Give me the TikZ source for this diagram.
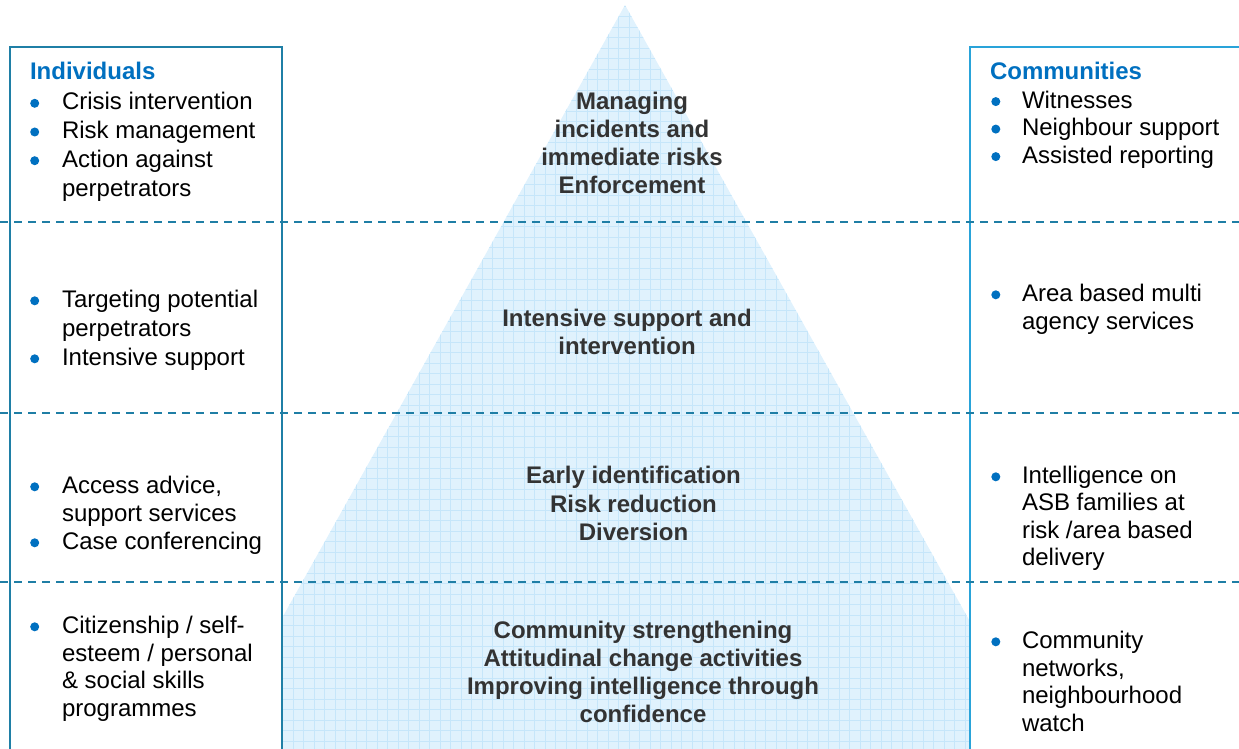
\documentclass[tikz,border=0pt]{standalone}
\usepackage{fontspec}
\setmainfont{Liberation Sans}
\definecolor{boxL}{HTML}{1F7FA6}
\definecolor{boxR}{HTML}{29A3D9}
\definecolor{dashc}{HTML}{1F7EA5}
\definecolor{pyrfill}{HTML}{E0F2FD}
\definecolor{gridc}{HTML}{C6E6FA}
\definecolor{headc}{HTML}{0070C0}
\definecolor{centc}{HTML}{333333}
\newcommand{\dotb}{\tikz[baseline=0pt,x=1pt,y=1pt]{\fill[headc] (0,6.7) circle[radius=4.5];}}
\newcommand{\bulL}{\makebox[31.8pt][l]{\dotb}}
\newcommand{\bulR}{\makebox[30.7pt][l]{\dotb}}
\newcommand{\blk}[2]{\begin{tabular}[t]{@{}l@{}l@{}}#2\end{tabular}}
\newcommand{\ctr}[1]{\begin{tabular}[t]{@{}c@{}}#1\end{tabular}}
\tikzset{
  every node/.style={inner sep=0pt, outer sep=0pt},
  listtext/.style={anchor=base west, text=black, font=\fontsize{24}{#1}\selectfont},
  listtext/.default=28.2,
  headtext/.style={anchor=base west, text=headc, font=\fontsize{24}{28}\selectfont\bfseries},
  centtext/.style={anchor=base, text=centc, font=\fontsize{24}{#1}\selectfont\bfseries},
  centtext/.default=28,
  sepline/.style={draw=dashc, line width=2pt, dash pattern=on 8pt off 6pt},
  leftbox/.style={draw=boxL, line width=2pt},
  rightbox/.style={draw=boxR, line width=2.2pt},
  gridline/.style={draw=gridc, line width=0.8pt},
}
\begin{document}
\begin{tikzpicture}[x=1pt,y=-1pt]
\useasboundingbox (0,0) rectangle (1239,749);
% pyramid
\begin{scope}
  \clip (625,5) -- (1047.4,760) -- (202.6,760) -- cycle;
  \fill[pyrfill] (150,-10) rectangle (1100,780);
  \draw[gridline, shift={(-0.7,6)}] (150,-20) grid[step=10.5pt] (1110,790);
\end{scope}
% boxes
\fill[white] (9.5,47) rectangle (282,770);
\fill[white] (970,47) rectangle (1260,770);
\path[leftbox] (9.5,770) -- (9.5,47) -- (282,47) -- (282,770);
\path[rightbox] (1260,47) -- (970,47) -- (970,770);
% separators
\coordinate (s1l) at (0,221.5);   \coordinate (s1r) at (1239,221.5);
\coordinate (s2l) at (0,413.3);   \coordinate (s2r) at (1239,413.3);
\coordinate (s3l) at (0,582);     \coordinate (s3r) at (1239,582);
\draw[sepline] (s1l) -- (s1r);
\draw[sepline] (s2l) -- (s2r);
\draw[sepline] (s3l) -- (s3r);
% headings
\node[headtext] (hind) at (30,80) {Individuals};
\node[headtext] (hcom) at (990,80) {Communities};
% left column
\node[listtext=28.7] (l1) at (30.2,110) {\blk{}{\bulL & Crisis intervention\\ \bulL & Risk management\\ \bulL & Action against\\ & perpetrators}};
\node[listtext=29] (l2) at (30.2,307.5) {\blk{}{\bulL & Targeting potential\\ & perpetrators\\ \bulL & Intensive support}};
\node[listtext=28] (l3) at (30.2,493.5) {\blk{}{\bulL & Access advice,\\ & support services\\ \bulL & Case conferencing}};
\node[listtext=27.7] (l4) at (30.2,633.5) {\blk{}{\bulL & Citizenship / self-\\ & esteem / personal\\ & \& social skills\\ & programmes}};
% right column
\node[listtext=27.5] (r1) at (991.3,108.3) {\blk{}{\bulR & Witnesses\\ \bulR & Neighbour support\\ \bulR & Assisted reporting}};
\node[listtext=28] (r2) at (991.3,301.5) {\blk{}{\bulR & Area based multi\\ & agency services}};
\node[listtext=27.3] (r3) at (991.3,483.5) {\blk{}{\bulR & Intelligence on\\ & ASB families at\\ & risk /area based\\ & delivery}};
\node[listtext=27.7] (r4) at (991.3,648.5) {\blk{}{\bulR & Community\\ & networks,\\ & neighbourhood\\ & watch}};
% centre
\node[centtext] (c1) at (632,109.5) {\ctr{Managing\\ incidents and\\ immediate risks\\ Enforcement}};
\node[centtext] (c2) at (627,326.5) {\ctr{Intensive support and\\ intervention}};
\node[centtext=28.5] (c3) at (633.5,483.5) {\ctr{Early identification\\ Risk reduction\\ Diversion}};
\node[centtext] (c4) at (643,638.5) {\ctr{Community strengthening\\ Attitudinal change activities\\ Improving intelligence through\\ confidence}};
\end{tikzpicture}
\end{document}
